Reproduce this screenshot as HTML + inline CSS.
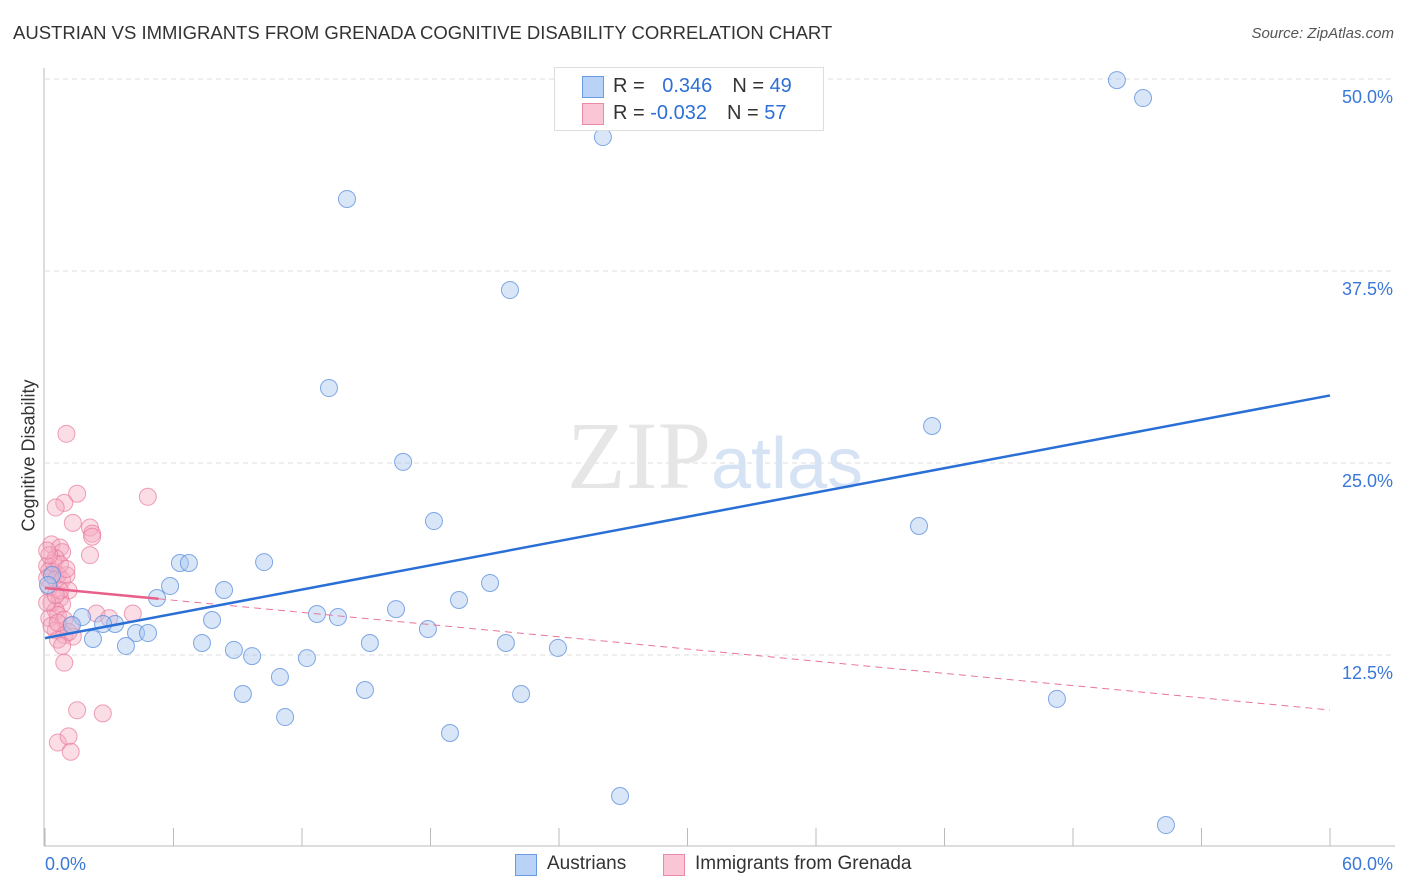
<!DOCTYPE html>
<html><head><meta charset="utf-8"><style>
body{margin:0;background:#fff;font-family:"Liberation Sans",sans-serif}
#wrap{position:relative;width:1406px;height:892px;overflow:hidden}
.t{position:absolute;white-space:nowrap}
</style></head><body>
<div id="wrap">
<div class="t" style="left:13px;top:22px;font-size:18.5px;color:#333">AUSTRIAN VS IMMIGRANTS FROM GRENADA COGNITIVE DISABILITY CORRELATION CHART</div>
<div class="t" style="right:12px;top:25px;font-size:15px;color:#555;font-style:italic">Source: ZipAtlas.com</div>
<svg id="svg" width="1406" height="892" style="position:absolute;left:0;top:0"></svg>
<div class="t" style="left:-47px;top:445px;font-size:18px;color:#333;transform:rotate(-90deg)">Cognitive Disability</div>
<div style="position:absolute;left:554px;top:67px;width:268px;height:62px;border:1px solid #ddd;background:#fff;font-size:20px">
<div style="position:absolute;left:27px;top:8px;width:20px;height:20px;background:#b8d3f5;border:1px solid #6a9be0"></div>
<div class="t" style="left:58px;top:7px;color:#333">R = <span style="color:#2d6fd6;margin-left:12px">0.346</span><span style="color:#333;margin-left:20px">N = </span><span style="color:#2d6fd6">49</span></div>
<div style="position:absolute;left:27px;top:35px;width:20px;height:20px;background:#fac6d5;border:1px solid #e88aa8"></div>
<div class="t" style="left:58px;top:34px;color:#333">R = <span style="color:#2d6fd6">-0.032</span><span style="color:#333;margin-left:20px">N = </span><span style="color:#2d6fd6">57</span></div>
</div>
<div style="position:absolute;left:515px;top:852px;font-size:19px;color:#333">
<div style="position:absolute;left:0;top:2px;width:20px;height:20px;background:#b8d3f5;border:1px solid #6a9be0"></div>
<div class="t" style="left:32px;top:1px">Austrians</div>
<div style="position:absolute;left:148px;top:2px;width:20px;height:20px;background:#fac6d5;border:1px solid #e88aa8"></div>
<div class="t" style="left:180px;top:1px">Immigrants from Grenada</div>
</div>
</div>
<script>
const blueX=[50.05,51.27,26.05,14.10,21.71,13.26,41.42,16.72,18.16,40.81,10.23,6.30,6.72,20.78,5.84,8.36,5.23,19.33,16.39,12.70,13.68,7.80,1.73,17.88,3.27,2.71,1.26,4.25,4.81,2.24,3.78,7.33,15.17,21.52,23.95,8.82,9.67,12.23,10.97,14.94,9.24,22.23,47.25,11.21,18.91,26.85,52.34,0.33,0.14];
const blueY=[49.93,48.76,46.22,42.19,36.26,29.88,27.41,25.07,21.22,20.90,18.55,18.49,18.49,17.19,16.99,16.73,16.21,16.08,15.49,15.17,14.97,14.78,14.97,14.19,14.52,14.52,14.45,13.93,13.93,13.54,13.09,13.28,13.28,13.28,12.96,12.83,12.43,12.30,11.07,10.22,9.96,9.96,9.64,8.46,7.42,3.32,1.43,17.71,17.06];
const pinkX=[1.0,1.5,4.8,0.9,0.5,1.3,2.1,2.2,2.2,2.1,0.3,0.7,0.8,0.5,0.1,0.2,0.4,0.6,0.1,0.5,0.8,1.0,0.4,0.7,0.2,1.1,0.7,0.3,0.8,0.5,0.6,0.2,0.9,2.4,3.0,4.1,1.2,0.5,0.9,0.6,1.3,1.1,0.9,1.5,2.7,0.6,1.1,1.2,0.2,0.7,0.1,0.3,0.8,0.5,1.0,0.1,0.6];
const pinkY=[26.9,23.0,22.8,22.4,22.1,21.1,20.8,20.4,20.2,19.0,19.7,19.5,19.2,18.8,18.3,18.0,17.9,17.7,17.5,17.4,17.4,17.7,18.5,18.4,19.0,16.7,16.2,15.9,15.8,15.4,15.1,14.9,14.8,15.2,14.9,15.2,14.4,14.1,13.8,13.5,13.7,14.0,12.0,8.9,8.7,6.8,7.2,6.2,16.9,16.7,15.9,14.4,13.1,16.4,18.1,19.3,14.6];
const blueLine=[13.6,29.4], pinkLine=[16.86,8.92], pinkSolidEnd=5.3;
const yTicks=[12.5,25,37.5,50];
const X0=45,X1=1330,Y0=847,PPY=15.36;
const sx=v=>X0+(X1-X0)*v/60, sy=v=>Y0-v*PPY;
const svg=document.getElementById('svg');const NS='http://www.w3.org/2000/svg';
function mk(t,a){const e=document.createElementNS(NS,t);for(const k in a)e.setAttribute(k,a[k]);svg.appendChild(e);return e;}
yTicks.forEach(v=>{const g=mk('line',{x1:45,x2:1395,y1:sy(v),y2:sy(v),stroke:'#ddd','stroke-dasharray':'5,4'});

const t=mk('text',{x:1393,y:sy(v)+24,'text-anchor':'end','font-size':18,fill:'#3a78d8','font-family':'Liberation Sans'});t.textContent=v.toFixed(1)+'%';
});
const wm=mk('text',{x:715,y:488,'text-anchor':'middle','font-size':96,fill:'#e6e6e6','font-family':'Liberation Serif'});wm.innerHTML='ZIP<tspan fill="#d6e3f5" font-family="Liberation Sans" font-size="72">atlas</tspan>';

const ax=mk('line',{x1:44,x2:44,y1:68,y2:846,stroke:'#bbb'});
const bx=mk('line',{x1:44,x2:1395,y1:846,y2:846,stroke:'#bbb'});
for(let i=0;i<=10;i++){const x=X0+i*(X1-X0)/10;const t=mk('line',{x1:x,x2:x,y1:828,y2:846,stroke:'#bbb'});}
[['0.0%',45,'start'],['60.0%',1393,'end']].forEach(a=>{const t=mk('text',{x:a[1],y:870,'text-anchor':a[2],'font-size':18,fill:'#3a78d8','font-family':'Liberation Sans'});t.textContent=a[0];});
pinkX.forEach((x,i)=>{const c=mk('circle',{cx:sx(x),cy:sy(pinkY[i]),r:8.5,fill:'rgba(244,170,192,0.4)',stroke:'rgba(232,120,155,0.7)','stroke-width':1});
});
blueX.forEach((x,i)=>{const c=mk('circle',{cx:sx(x),cy:sy(blueY[i]),r:8.5,fill:'rgba(168,200,240,0.45)',stroke:'rgba(90,140,220,0.75)','stroke-width':1});
});
const pl=v=>pinkLine[0]+(pinkLine[1]-pinkLine[0])*v/60;
const pd=mk('line',{x1:sx(pinkSolidEnd),y1:sy(pl(pinkSolidEnd)),x2:sx(60),y2:sy(pinkLine[1]),stroke:'#e8759a','stroke-width':1,'stroke-dasharray':'7,5'});

const ps=mk('line',{x1:sx(0),y1:sy(pinkLine[0]),x2:sx(pinkSolidEnd),y2:sy(pl(pinkSolidEnd)),stroke:'#e8608a','stroke-width':2.5});

const bl=mk('line',{x1:sx(0),y1:sy(blueLine[0]),x2:sx(60),y2:sy(blueLine[1]),stroke:'#2a6fd6','stroke-width':2.5});

</script>
</body></html>
